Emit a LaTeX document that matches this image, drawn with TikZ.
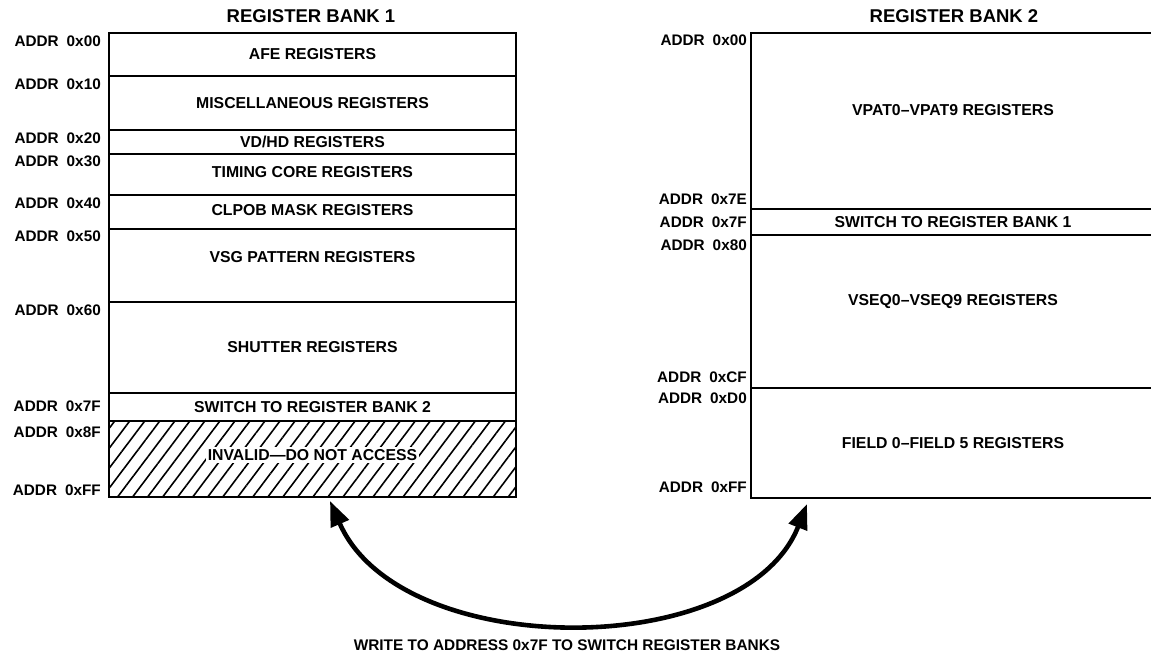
\documentclass[tikz,border=0pt]{standalone}
\usepackage{fontspec}
\setmainfont{Liberation Sans}
\usetikzlibrary{arrows.meta, positioning, patterns.meta}

\newcommand{\addr}[1]{ADDR\hspace{8pt}#1}

\begin{document}
\begin{tikzpicture}[
    x=1pt, y=-1pt,
    block/.style={draw, line width=2.4pt, inner sep=0pt, outer sep=0pt, anchor=north west},
    bankone/.style={block, minimum width=407pt},
    banktwo/.style={block, minimum width=404pt},
    regtxt/.style={font=\bfseries\fontsize{15.8}{18}\selectfont, inner sep=2pt},
    addrlbl/.style={font=\bfseries\fontsize{15.3}{17}\selectfont, anchor=east, inner sep=0pt},
    banktitle/.style={font=\bfseries\fontsize{18.5}{21}\selectfont},
    captxt/.style={font=\bfseries\fontsize{15.4}{18}\selectfont},
    hatch/.style={pattern={Lines[angle=53, distance=12pt, line width=1.6pt]}},
    swarrow/.style={{Triangle[length=25pt, width=19pt]}-{Triangle[length=25pt, width=19pt]},
        line width=4.6pt},
]
    \useasboundingbox (0,0) rectangle (1151,653);
    \clip (0,0) rectangle (1151,653);

    % register bank 1
    \node[banktitle] (titleone) at (311,16) {REGISTER BANK 1};
    \node[bankone, minimum height=43pt] (afe) at (109,33) {};
    \node[bankone, minimum height=54pt] (misc) at (afe.south west) {};
    \node[bankone, minimum height=24pt] (vdhd) at (misc.south west) {};
    \node[bankone, minimum height=41pt] (timing) at (vdhd.south west) {};
    \node[bankone, minimum height=34pt] (clpob) at (timing.south west) {};
    \node[bankone, minimum height=73pt] (vsg) at (clpob.south west) {};
    \node[bankone, minimum height=91pt] (shutter) at (vsg.south west) {};
    \node[bankone, minimum height=28pt] (swtwo) at (shutter.south west) {};
    \node[bankone, minimum height=76pt, hatch] (invalid) at (swtwo.south west) {};

    \node[regtxt] at (afe.center) {AFE REGISTERS};
    \node[regtxt] at (misc.center) {MISCELLANEOUS REGISTERS};
    \node[regtxt] at (vdhd.center) {VD/HD REGISTERS};
    \node[regtxt] at ([yshift=2pt]timing.center) {TIMING CORE REGISTERS};
    \node[regtxt] at ([yshift=2pt]clpob.center) {CLPOB MASK REGISTERS};
    \node[regtxt] at ([yshift=8pt]vsg.center) {VSG PATTERN REGISTERS};
    \node[regtxt] at (shutter.center) {SHUTTER REGISTERS};
    \node[regtxt] at (swtwo.center) {SWITCH TO REGISTER BANK 2};
    \node[regtxt, fill=white] at ([yshift=4pt]invalid.center) {INVALID---DO NOT ACCESS};

    \node[addrlbl] at (101,41) {\addr{0x00}};
    \node[addrlbl] at (101,84) {\addr{0x10}};
    \node[addrlbl] at (101,138) {\addr{0x20}};
    \node[addrlbl] at (101,161) {\addr{0x30}};
    \node[addrlbl] at (101,203) {\addr{0x40}};
    \node[addrlbl] at (101,236) {\addr{0x50}};
    \node[addrlbl] at (101,310) {\addr{0x60}};
    \node[addrlbl] at (101,406) {\addr{0x7F}};
    \node[addrlbl] at (101,432) {\addr{0x8F}};
    \node[addrlbl] at (101,490) {\addr{0xFF}};

    % register bank 2
    \node[banktitle] (titletwo) at (954,16) {REGISTER BANK 2};
    \node[banktwo, minimum height=176pt] (vpat) at (751,33) {};
    \node[banktwo, minimum height=26pt] (swone) at (vpat.south west) {};
    \node[banktwo, minimum height=153pt] (vseq) at (swone.south west) {};
    \node[banktwo, minimum height=110pt] (field) at (vseq.south west) {};

    \node[regtxt] at ([yshift=11pt]vpat.center) {VPAT0--VPAT9 REGISTERS};
    \node[regtxt] at (swone.center) {SWITCH TO REGISTER BANK 1};
    \node[regtxt] at ([yshift=10pt]vseq.center) {VSEQ0--VSEQ9 REGISTERS};
    \node[regtxt] at (field.center) {FIELD 0--FIELD 5 REGISTERS};

    \node[addrlbl] at (747,40) {\addr{0x00}};
    \node[addrlbl] at (747,199) {\addr{0x7E}};
    \node[addrlbl] at (747,222) {\addr{0x7F}};
    \node[addrlbl] at (747,245) {\addr{0x80}};
    \node[addrlbl] at (747,377) {\addr{0xCF}};
    \node[addrlbl] at (747,398) {\addr{0xD0}};
    \node[addrlbl] at (747,487) {\addr{0xFF}};

    % bank switch
    \coordinate (tipone) at (330,501);
    \coordinate (tiptwo) at (807,504);
    \draw[swarrow] (tipone) .. controls (400,662) and (745,662) .. (tiptwo);
    \node[captxt] (caption) at (567,645) {WRITE TO ADDRESS 0x7F TO SWITCH REGISTER BANKS};
\end{tikzpicture}
\end{document}
